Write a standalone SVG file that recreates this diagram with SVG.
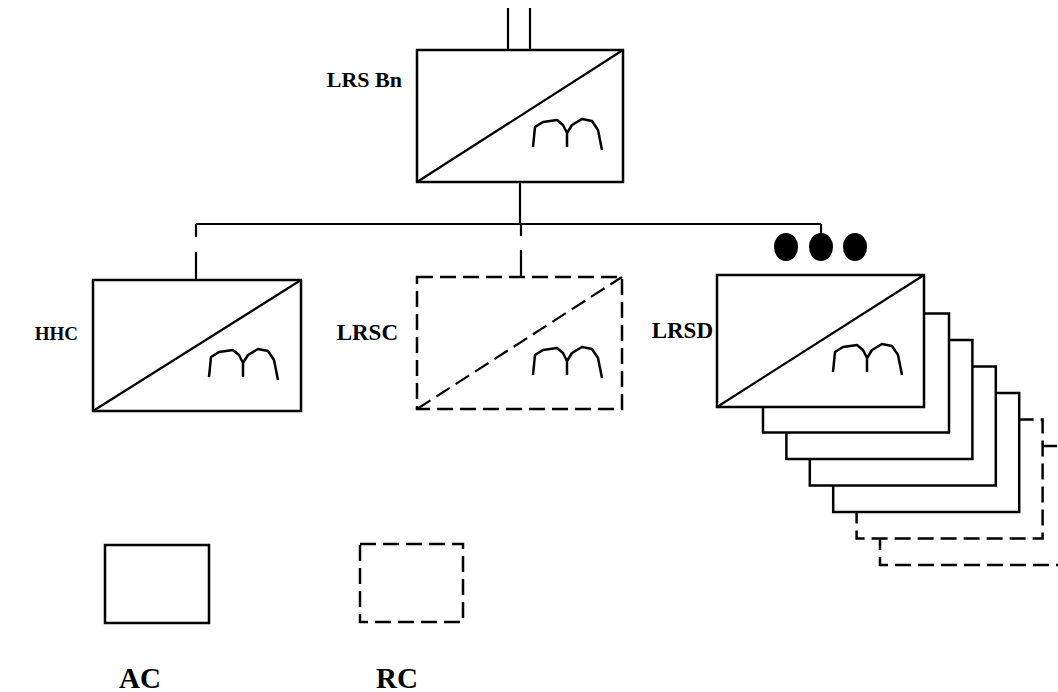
<svg xmlns="http://www.w3.org/2000/svg" width="1058" height="692" viewBox="0 0 1058 692">
<style>
.box{fill:#fff;stroke:#000;stroke-width:2.5}
.dbox{fill:#fff;stroke:#000;stroke-width:2.5;stroke-dasharray:16 7}
.ln{fill:none;stroke:#000;stroke-width:2.2}
.dln{fill:none;stroke:#000;stroke-width:2.2;stroke-dasharray:16 7}
.gl{fill:none;stroke:#000;stroke-width:2.5;stroke-linejoin:round}
.lbl{font-family:"Liberation Serif","Times New Roman",serif;font-weight:bold;fill:#000}
</style>
<defs>
<path id="glyph" class="gl" d="M116,97 L118,77 L126,72 L140,70 L146,75 L150,83 L150,97 M150,83 L155,75 L165,69 L175,71 L181,80 L185,100"/>
</defs>
<rect width="1058" height="692" fill="#fff"/>
<g id="connectors">
<line class="ln" x1="508" y1="8" x2="508" y2="50"/>
<line class="ln" x1="530" y1="8" x2="530" y2="50"/>
<line class="ln" x1="520" y1="182" x2="520" y2="224"/>
<line class="ln" x1="196" y1="224" x2="821" y2="224"/>
<path class="ln" d="M196,224 V237 M196,252 V280"/>
<path class="ln" d="M521,224 V236 M521,250 V277"/>
<line class="ln" x1="821" y1="224" x2="821" y2="236"/>
</g>
<g id="lrs-bn">
<rect class="box" x="417" y="50" width="206" height="132"/>
<line class="ln" x1="417" y1="182" x2="623" y2="50"/>
<use href="#glyph" transform="translate(417,50)"/>
<text class="lbl" x="402" y="87" font-size="22" text-anchor="end">LRS Bn</text>
</g>
<g id="hhc">
<rect class="box" x="93" y="280" width="208" height="131"/>
<line class="ln" x1="93" y1="411" x2="301" y2="280"/>
<use href="#glyph" transform="translate(93,280)"/>
<text class="lbl" x="78" y="340" font-size="19" text-anchor="end">HHC</text>
</g>
<g id="lrsc">
<rect class="dbox" x="417" y="277" width="205" height="132"/>
<line class="dln" x1="417" y1="409" x2="622" y2="277"/>
<use href="#glyph" transform="translate(417,278)"/>
<text class="lbl" x="398" y="340" font-size="23" text-anchor="end">LRSC</text>
</g>
<g id="lrsd-stack">
<rect class="dbox" x="880" y="446" width="186" height="119"/>
<rect class="dbox" x="856.6" y="419.5" width="186" height="119"/>
<rect class="box" x="833.2" y="393" width="186" height="119"/>
<rect class="box" x="809.8" y="366.5" width="186" height="119"/>
<rect class="box" x="786.4" y="340" width="186" height="119"/>
<rect class="box" x="763" y="313.5" width="186" height="119"/>
</g>
<g id="lrsd">
<rect class="box" x="717" y="275" width="207" height="132"/>
<line class="ln" x1="717" y1="407" x2="924" y2="275"/>
<use href="#glyph" transform="translate(717,275)"/>
<text class="lbl" x="713" y="338" font-size="23" text-anchor="end">LRSD</text>
</g>
<g id="dots">
<ellipse cx="786" cy="247" rx="12" ry="14" fill="#000"/>
<ellipse cx="821" cy="247" rx="12" ry="14" fill="#000"/>
<ellipse cx="855" cy="247" rx="12" ry="14" fill="#000"/>
</g>
<g id="ac">
<rect class="box" x="105" y="545" width="104" height="78"/>
<text class="lbl" x="140" y="688" font-size="29" text-anchor="middle">AC</text>
</g>
<g id="rc">
<rect class="dbox" x="360" y="544" width="103" height="78"/>
<text class="lbl" x="397" y="688" font-size="29" text-anchor="middle">RC</text>
</g>
</svg>
